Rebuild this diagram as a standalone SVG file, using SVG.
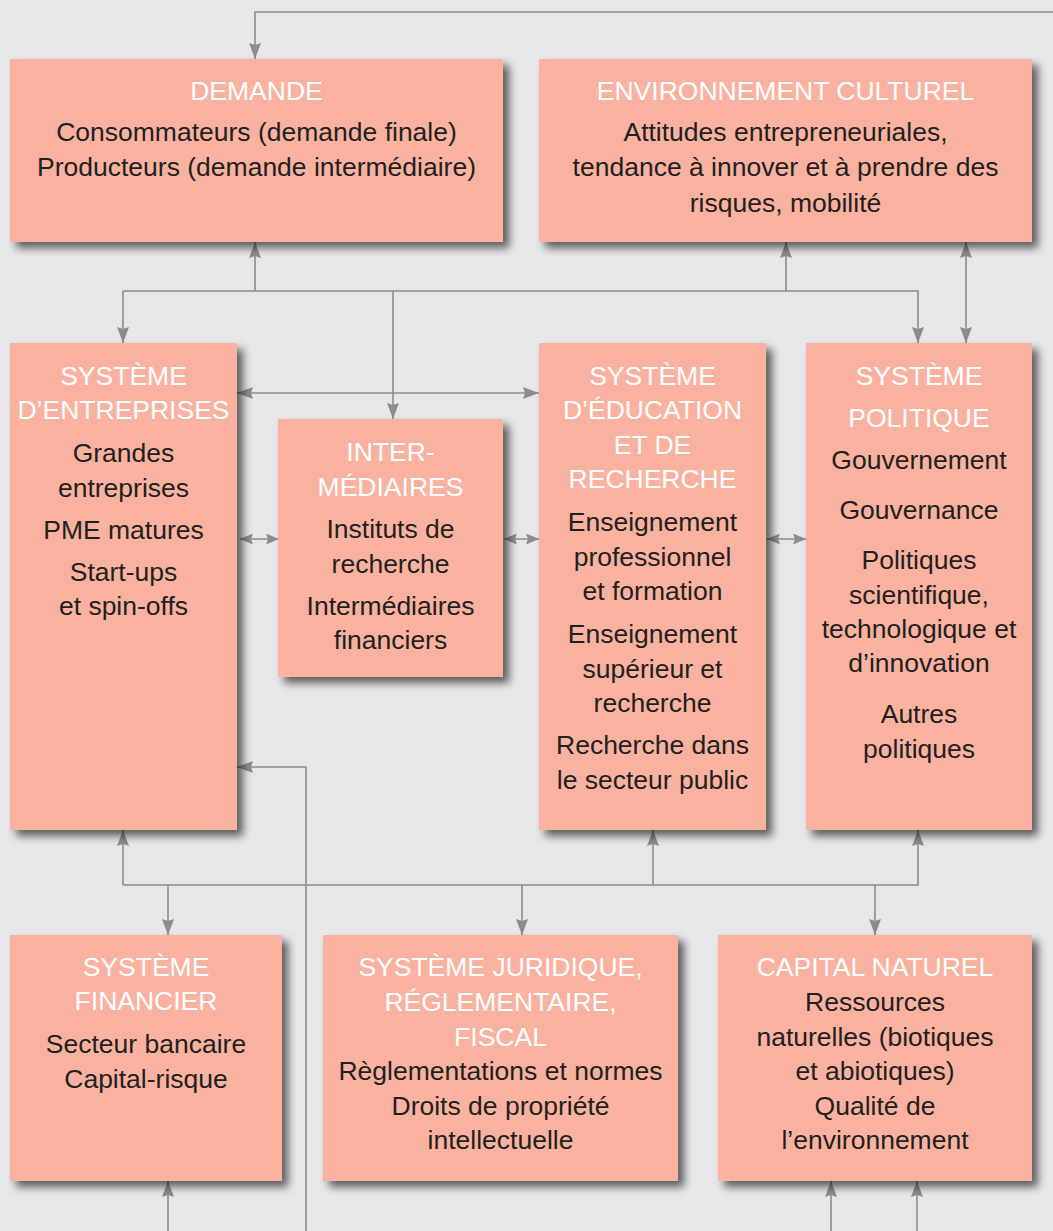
<svg xmlns="http://www.w3.org/2000/svg" width="1053" height="1231" viewBox="0 0 1053 1231">
  <style>
    .box { fill: #f9b2a0; filter: url(#shadow); }
    .title { fill: #ffffff; font-family: "Liberation Sans", Arial, sans-serif; font-size: 26.5px; text-anchor: middle; }
    .body { fill: #231f20; font-family: "Liberation Sans", Arial, sans-serif; font-size: 26.5px; text-anchor: middle; }
    .link { fill: none; stroke: #8b8c8e; stroke-width: 1.6; }
    .arr { marker-end: url(#head); }
    .both { marker-start: url(#head); marker-end: url(#head); }
    .small { marker-start: url(#headSmall); marker-end: url(#headSmall); }
  </style>
  <defs>
    <filter id="shadow" x="-10%" y="-10%" width="130%" height="130%">
      <feDropShadow dx="6" dy="6" stdDeviation="4.5" flood-color="#000000" flood-opacity="0.6"/>
    </filter>
    <marker id="head" viewBox="0 0 16 12" refX="16" refY="6" markerWidth="16" markerHeight="12" markerUnits="userSpaceOnUse" orient="auto-start-reverse">
      <path d="M0,0 L16,6 L0,12 L2,6 z" fill="#8b8c8e"/>
    </marker>
    <marker id="headSmall" viewBox="0 0 13 11" refX="13" refY="5.5" markerWidth="13" markerHeight="11" markerUnits="userSpaceOnUse" orient="auto-start-reverse">
      <path d="M0,0 L13,5.5 L0,11 L2,5.5 z" fill="#8b8c8e"/>
    </marker>
  </defs>

  <rect x="0" y="0" width="1053" height="1231" fill="#e6e7e8"/>

  <!-- connectors -->
  <g id="connectors">
    <path class="link arr" d="M1060,12 H255 V59"/>
    <path class="link arr" d="M255,291 V242"/>
    <path class="link arr" d="M786,291 V242"/>
    <path class="link arr" d="M123,291 V343"/>
    <path class="link arr" d="M123,291 H918 V343"/>
    <path class="link arr" d="M393,291 V419"/>
    <path class="link both" d="M966,242 V343"/>
    <path class="link both" d="M237,393 H539"/>
    <path class="link small" d="M240,539 H279"/>
    <path class="link small" d="M504,539 H539"/>
    <path class="link small" d="M767,539 H806"/>
    <path class="link arr" d="M123,885 V830"/>
    <path class="link arr" d="M123,885 H918 V830"/>
    <path class="link arr" d="M653,885 V830"/>
    <path class="link arr" d="M168,885 V935"/>
    <path class="link arr" d="M522,885 V935"/>
    <path class="link arr" d="M875,885 V935"/>
    <path class="link arr" d="M306,1240 V767 H237"/>
    <path class="link arr" d="M168,1240 V1181"/>
    <path class="link arr" d="M831,1240 V1181"/>
    <path class="link arr" d="M917,1240 V1181"/>
  </g>

  <g id="demande">
    <rect class="box" x="10" y="59" width="493" height="183"/>
    <text class="title" x="256.5" y="100">DEMANDE</text>
    <text class="body" x="256.5" y="141">Consommateurs (demande finale)</text>
    <text class="body" x="256.5" y="176">Producteurs (demande intermédiaire)</text>
  </g>

  <g id="environnement-culturel">
    <rect class="box" x="539" y="59" width="493" height="183"/>
    <text class="title" x="785.5" y="100">ENVIRONNEMENT CULTUREL</text>
    <text class="body" x="785.5" y="141">Attitudes entrepreneuriales,</text>
    <text class="body" x="785.5" y="176">tendance à innover et à prendre des</text>
    <text class="body" x="785.5" y="212">risques, mobilité</text>
  </g>

  <g id="systeme-entreprises">
    <rect class="box" x="10" y="343" width="227" height="487"/>
    <text class="title" x="123.5" y="385">SYSTÈME</text>
    <text class="title" x="123.5" y="419">D’ENTREPRISES</text>
    <text class="body" x="123.5" y="462">Grandes</text>
    <text class="body" x="123.5" y="497">entreprises</text>
    <text class="body" x="123.5" y="539">PME matures</text>
    <text class="body" x="123.5" y="581">Start-ups</text>
    <text class="body" x="123.5" y="615">et spin-offs</text>
  </g>

  <g id="intermediaires">
    <rect class="box" x="278" y="419" width="225" height="258"/>
    <text class="title" x="390.5" y="461">INTER-</text>
    <text class="title" x="390.5" y="496">MÉDIAIRES</text>
    <text class="body" x="390.5" y="538">Instituts de</text>
    <text class="body" x="390.5" y="573">recherche</text>
    <text class="body" x="390.5" y="615">Intermédiaires</text>
    <text class="body" x="390.5" y="649">financiers</text>
  </g>

  <g id="systeme-education-recherche">
    <rect class="box" x="539" y="343" width="227" height="487"/>
    <text class="title" x="652.5" y="385">SYSTÈME</text>
    <text class="title" x="652.5" y="419">D’ÉDUCATION</text>
    <text class="title" x="652.5" y="454">ET DE</text>
    <text class="title" x="652.5" y="488">RECHERCHE</text>
    <text class="body" x="652.5" y="531">Enseignement</text>
    <text class="body" x="652.5" y="566">professionnel</text>
    <text class="body" x="652.5" y="600">et formation</text>
    <text class="body" x="652.5" y="643">Enseignement</text>
    <text class="body" x="652.5" y="678">supérieur et</text>
    <text class="body" x="652.5" y="712">recherche</text>
    <text class="body" x="652.5" y="754">Recherche dans</text>
    <text class="body" x="652.5" y="789">le secteur public</text>
  </g>

  <g id="systeme-politique">
    <rect class="box" x="806" y="343" width="226" height="487"/>
    <text class="title" x="919" y="385">SYSTÈME</text>
    <text class="title" x="919" y="427">POLITIQUE</text>
    <text class="body" x="919" y="469">Gouvernement</text>
    <text class="body" x="919" y="519">Gouvernance</text>
    <text class="body" x="919" y="569">Politiques</text>
    <text class="body" x="919" y="604">scientifique,</text>
    <text class="body" x="919" y="638">technologique et</text>
    <text class="body" x="919" y="672">d’innovation</text>
    <text class="body" x="919" y="723">Autres</text>
    <text class="body" x="919" y="758">politiques</text>
  </g>

  <g id="systeme-financier">
    <rect class="box" x="10" y="935" width="272" height="246"/>
    <text class="title" x="146" y="976">SYSTÈME</text>
    <text class="title" x="146" y="1010">FINANCIER</text>
    <text class="body" x="146" y="1053">Secteur bancaire</text>
    <text class="body" x="146" y="1088">Capital-risque</text>
  </g>

  <g id="systeme-juridique">
    <rect class="box" x="323" y="935" width="355" height="246"/>
    <text class="title" x="500.5" y="976">SYSTÈME JURIDIQUE,</text>
    <text class="title" x="500.5" y="1011">RÉGLEMENTAIRE,</text>
    <text class="title" x="500.5" y="1046">FISCAL</text>
    <text class="body" x="500.5" y="1080">Règlementations et normes</text>
    <text class="body" x="500.5" y="1115">Droits de propriété</text>
    <text class="body" x="500.5" y="1149">intellectuelle</text>
  </g>

  <g id="capital-naturel">
    <rect class="box" x="718" y="935" width="314" height="246"/>
    <text class="title" x="875" y="976">CAPITAL NATUREL</text>
    <text class="body" x="875" y="1011">Ressources</text>
    <text class="body" x="875" y="1046">naturelles (biotiques</text>
    <text class="body" x="875" y="1080">et abiotiques)</text>
    <text class="body" x="875" y="1115">Qualité de</text>
    <text class="body" x="875" y="1149">l’environnement</text>
  </g>
</svg>
